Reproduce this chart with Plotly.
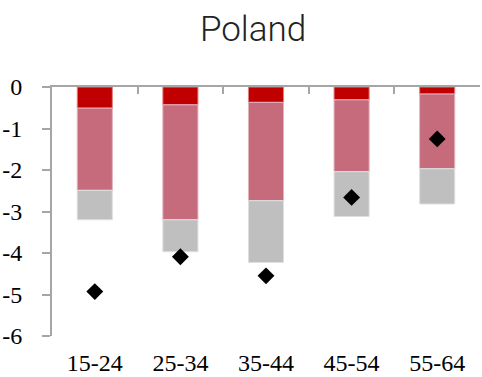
import plotly.graph_objects as go

age_groups = ["15-24", "25-34", "35-44", "45-54", "55-64"]
dark_red_part = [-0.51, -0.43, -0.37, -0.31, -0.17]
pink_part = [-1.98, -2.77, -2.37, -1.73, -1.80]
grey_part = [-0.71, -0.77, -1.49, -1.08, -0.85]
total_change = [-4.93, -4.09, -4.55, -2.66, -1.25]
y_ticks = [0, -1, -2, -3, -4, -5, -6]

fig = go.Figure()
for vals, col, edge in [
    (dark_red_part, "#C00000", "#E08080"),
    (pink_part, "#C56B7C", "#E3B3BC"),
    (grey_part, "#BFBFBF", "#E0E0E0"),
]:
    fig.add_trace(go.Bar(
        x=age_groups, y=vals, marker=dict(color=col, line=dict(color=edge, width=1)),
        xaxis="x", yaxis="y", showlegend=False,
    ))

fig.add_trace(go.Scatter(
    x=age_groups, y=total_change, mode="markers",
    marker=dict(symbol="diamond", size=13, color="black"),
    xaxis="x2", yaxis="y", showlegend=False,
))

axis_grey = "#A6A6A6"
serif = "Liberation Serif"

fig.update_layout(
    width=482, height=377,
    margin=dict(l=52, r=2, t=87, b=41),
    paper_bgcolor="white", plot_bgcolor="white",
    barmode="relative", bargap=0.59,
    font=dict(family=serif, size=24, color="black"),
    title=dict(
        text="Poland", x=0.525, xanchor="center", xref="container",
        y=0.925, yanchor="middle", yref="container",
        font=dict(family="Roboto", size=35, color="#222222", weight=300),
    ),
    xaxis=dict(
        type="category", categoryorder="array", categoryarray=age_groups,
        showline=False, ticks="", showgrid=False, zeroline=False,
        tickfont=dict(family=serif, size=24, color="black"),
        ticklabelstandoff=10, automargin=False,
    ),
    xaxis2=dict(
        type="category", categoryorder="array", categoryarray=age_groups,
        overlaying="x", matches="x", side="top", anchor="y",
        showline=True, linecolor=axis_grey, linewidth=2,
        ticks="inside", tickson="boundaries", ticklen=7, tickwidth=2, tickcolor=axis_grey,
        showticklabels=False, showgrid=False, zeroline=False, automargin=False,
    ),
    yaxis=dict(
        range=[-6, 0], tickvals=y_ticks, ticktext=[str(v) for v in y_ticks],
        showline=True, linecolor=axis_grey, linewidth=2,
        ticks="outside", ticklen=8, tickwidth=2, tickcolor=axis_grey,
        showgrid=False, zeroline=False,
        tickfont=dict(family=serif, size=24, color="black"),
        ticklabelstandoff=15, automargin=False,
    ),
)

fig.write_html("out.html")
